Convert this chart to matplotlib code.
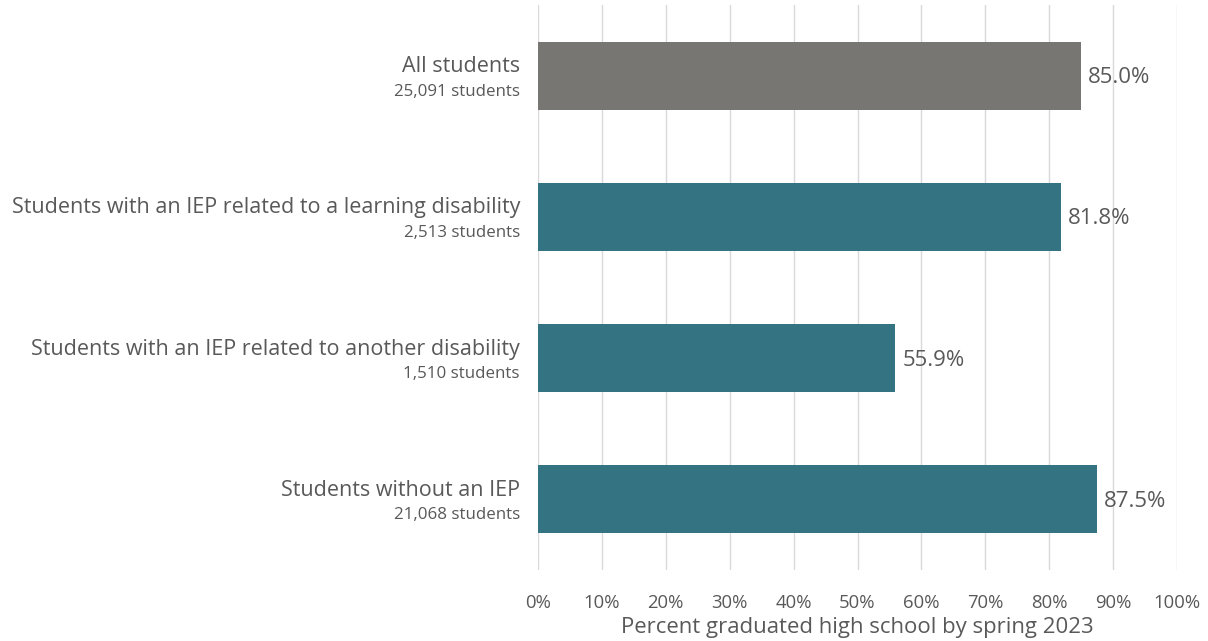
import matplotlib
matplotlib.use("Agg")
import matplotlib.pyplot as plt
from matplotlib.ticker import FuncFormatter

categories = ["All students",
              "Students with an IEP related to a learning disability",
              "Students with an IEP related to another disability",
              "Students without an IEP"]
counts = ["25,091 students", "2,513 students", "1,510 students", "21,068 students"]
values = [85.0, 81.8, 55.9, 87.5]
colors = ["#777673", "#347381", "#347381", "#347381"]
xticks = list(range(0, 101, 10))

plt.rcParams['font.family'] = ['Open Sans', 'DejaVu Sans']
text_color = "#595959"

fig = plt.figure(figsize=(12.08, 6.41), dpi=100)
ax = fig.add_axes([538/1208, 1-570/641, (1177-538)/1208, (570-5)/641])

y = list(range(len(categories)))
ax.barh(y, values, height=0.48, color=colors, zorder=3)
ax.set_ylim(3.5, -0.5)
ax.set_xlim(0, 100)
ax.set_xticks(xticks)
ax.xaxis.set_major_formatter(FuncFormatter(lambda v, p: f"{int(v)}%"))
ax.grid(axis='x', color="#d9d9d9", linewidth=1, zorder=0)
ax.set_axisbelow(True)
for s in ax.spines.values():
    s.set_visible(False)
ax.tick_params(axis='x', length=0, pad=17, labelsize=13.3, labelcolor=text_color)
ax.set_yticks([])
ax.set_xlabel("Percent graduated high school by spring 2023", fontsize=15.9, color=text_color, labelpad=4)

for i, (cat, cnt, v) in enumerate(zip(categories, counts, values)):
    ax.annotate(cat, xy=(0, i), xytext=(-13, 6.5), textcoords='offset points',
                ha='right', va='center', fontsize=15.5, color=text_color, annotation_clip=False)
    ax.annotate(cnt, xy=(0, i), xytext=(-13, -11.5), textcoords='offset points',
                ha='right', va='center', fontsize=12.2, color=text_color, annotation_clip=False)
    ax.annotate(f"{v:.1f}%", xy=(v, i), xytext=(5, -1.5), textcoords='offset points',
                ha='left', va='center', fontsize=16, color=text_color)

fig.savefig("out.png", dpi=100)
